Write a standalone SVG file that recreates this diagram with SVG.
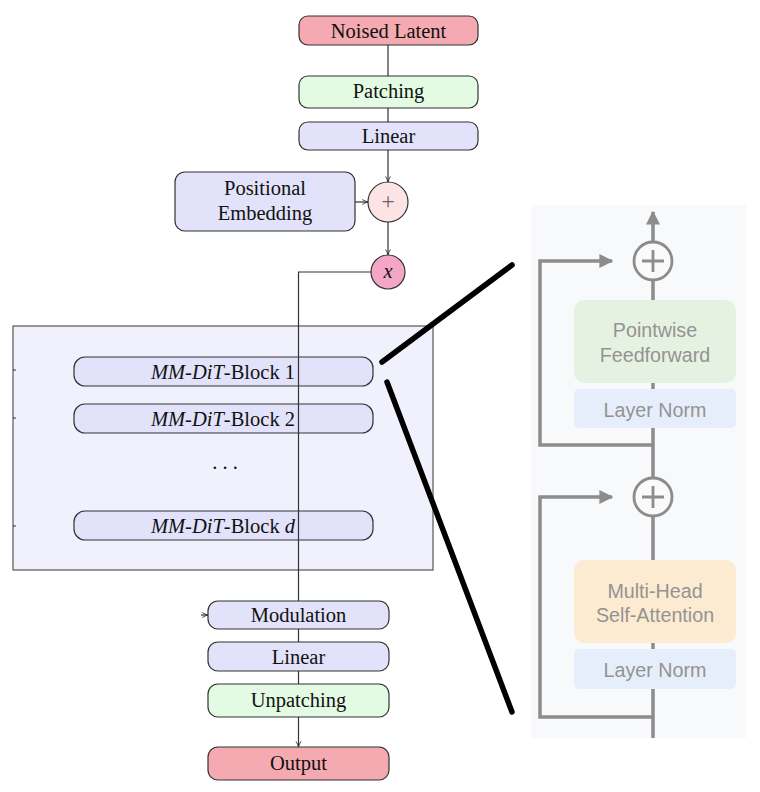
<svg xmlns="http://www.w3.org/2000/svg" width="760" height="792" viewBox="0 0 760 792">
<defs>
<style>
.t{font-family:"Liberation Serif","Times New Roman",serif;font-size:20.5px;fill:#111;text-anchor:middle;dominant-baseline:central}
.it{font-style:italic}
.n{stroke:#333;stroke-width:1.2}
.red{fill:#f5a9b0}
.grn{fill:#e2fbe2}
.lav{fill:#e2e2fa}
.c{fill:none;stroke:#333;stroke-width:1.2}
.g{fill:none;stroke:#8c8c8c;stroke-width:3.5}
.s{font-family:"Liberation Sans",Arial,sans-serif;font-size:19.7px;fill:#939393;text-anchor:middle;dominant-baseline:central}
.zoom{stroke:#000;stroke-width:5.5;stroke-linecap:round}
</style>
<marker id="a" viewBox="0 0 10 10" refX="9" refY="5" markerWidth="7" markerHeight="7" markerUnits="userSpaceOnUse" orient="auto"><path d="M1,1.5 Q5,4 9,5 Q5,6 1,8.5" fill="none" stroke="#333" stroke-width="1.3"/></marker>
<marker id="ga" viewBox="0 0 10 10" refX="9" refY="5" markerWidth="4" markerHeight="4" orient="auto"><path d="M0,0 L10,5 L0,10 z" fill="#8c8c8c"/></marker>
</defs>
<rect width="760" height="792" fill="#fff"/>

<!-- big container -->
<g id="stack">
<rect x="13" y="326" width="420" height="244" fill="#f1f1fd" stroke="#555" stroke-width="1.2"/>
<path d="M13,370 h3 M13,418 h3 M13,526 h3" stroke="#333" stroke-width="1"/>
</g>

<g id="noised"><rect class="n red" x="299" y="16" width="179" height="29" rx="9"/><text class="t" x="388.5" y="31">Noised Latent</text></g>
<g id="patching"><rect class="n grn" x="299" y="76" width="179" height="32" rx="9"/><text class="t" x="388.5" y="91">Patching</text></g>
<g id="linear1"><rect class="n lav" x="299" y="122" width="179" height="28" rx="9"/><text class="t" x="388.5" y="136">Linear</text></g>
<g id="posemb"><rect class="n lav" x="175" y="172" width="180" height="59" rx="10"/><text class="t" x="265" y="188">Positional</text><text class="t" x="265" y="213">Embedding</text></g>
<g id="plus"><circle class="n" cx="388" cy="202" r="20" fill="#fde4e4"/><text class="t" x="388" y="201" style="font-size:24px;fill:#666">+</text></g>
<g id="xnode"><circle class="n" cx="388" cy="272" r="17" fill="#f4a6c6"/><text class="t it" x="388" y="271">x</text></g>

<g id="block1"><rect class="n lav" x="74" y="357" width="299" height="29" rx="11"/><text class="t" x="223" y="372"><tspan class="it">MM-DiT</tspan>-Block 1</text></g>
<g id="block2"><rect class="n lav" x="74" y="404" width="299" height="29" rx="11"/><text class="t" x="223" y="419"><tspan class="it">MM-DiT</tspan>-Block 2</text></g>
<g id="dots"><text class="t" x="225" y="462">. . .</text></g>
<g id="blockd"><rect class="n lav" x="74" y="511" width="299" height="29" rx="11"/><text class="t" x="223" y="526"><tspan class="it">MM-DiT</tspan>-Block <tspan class="it">d</tspan></text></g>

<g id="modulation"><rect class="n lav" x="208" y="601" width="181" height="28" rx="10"/><text class="t" x="298.5" y="615">Modulation</text></g>
<g id="linear2"><rect class="n lav" x="208" y="642" width="181" height="29" rx="10"/><text class="t" x="298.5" y="656.5">Linear</text></g>
<g id="unpatching"><rect class="n grn" x="208" y="684" width="181" height="33" rx="10"/><text class="t" x="298.5" y="700">Unpatching</text></g>
<g id="output"><rect class="n red" x="208" y="747" width="181" height="33" rx="10"/><text class="t" x="298.5" y="763">Output</text></g>

<g id="connectors">
<path class="c" d="M388,45 V76 M388,108 V122"/>
<path class="c" d="M388,150 V182" marker-end="url(#a)"/>
<path class="c" d="M355,202 H368" marker-end="url(#a)"/>
<path class="c" d="M388,222 V255" marker-end="url(#a)"/>
<path class="c" d="M371,272 H298.5 V601 M298.5,629 V642 M298.5,671 V684"/>
<path class="c" d="M298.5,717 V747" marker-end="url(#a)"/>
<path class="c" d="M201,615 H208" marker-end="url(#a)"/>
</g>

<!-- zoom lines -->
<g id="zoomlines">
<line class="zoom" x1="382" y1="362" x2="512" y2="265"/>
<line class="zoom" x1="387" y1="382" x2="512" y2="712"/>
</g>

<!-- right detail panel -->
<g id="panel">
<rect x="531" y="205" width="215" height="533" fill="#f8f9fb"/>
</g>
<g id="ff"><rect x="574" y="300" width="162" height="83" rx="11" fill="#e6f2e1"/><text class="s" x="655" y="330">Pointwise</text><text class="s" x="655" y="355">Feedforward</text></g>
<g id="ln1"><rect x="574" y="389" width="162" height="39" rx="5" fill="#e7eefb"/><text class="s" x="655" y="409.5">Layer Norm</text></g>
<g id="mha"><rect x="574" y="560" width="162" height="83" rx="11" fill="#fcebd0"/><text class="s" x="655" y="591">Multi-Head</text><text class="s" x="655" y="615">Self-Attention</text></g>
<g id="ln2"><rect x="574" y="649" width="162" height="40" rx="5" fill="#e7eefb"/><text class="s" x="655" y="670">Layer Norm</text></g>
<g id="add1"><circle cx="653" cy="261" r="19" fill="#fafafa" stroke="#8c8c8c" stroke-width="2.8"/><path d="M653,250 V272 M642,261 H664" stroke="#8c8c8c" stroke-width="2.8"/></g>
<g id="add2"><circle cx="653" cy="497" r="19" fill="#fafafa" stroke="#8c8c8c" stroke-width="2.8"/><path d="M653,486 V508 M642,497 H664" stroke="#8c8c8c" stroke-width="2.8"/></g>
<g id="panelconnectors">
<path class="g" d="M653,242 V212" marker-end="url(#ga)"/>
<path class="g" d="M653,280 V300 M653,383 V389 M653,428 V478 M653,516 V560 M653,643 V649 M653,689 V738"/>
<path class="g" d="M653,445 H540 V261 H612" marker-end="url(#ga)"/>
<path class="g" d="M653,717 H540 V497 H612" marker-end="url(#ga)"/>
</g>
</svg>
